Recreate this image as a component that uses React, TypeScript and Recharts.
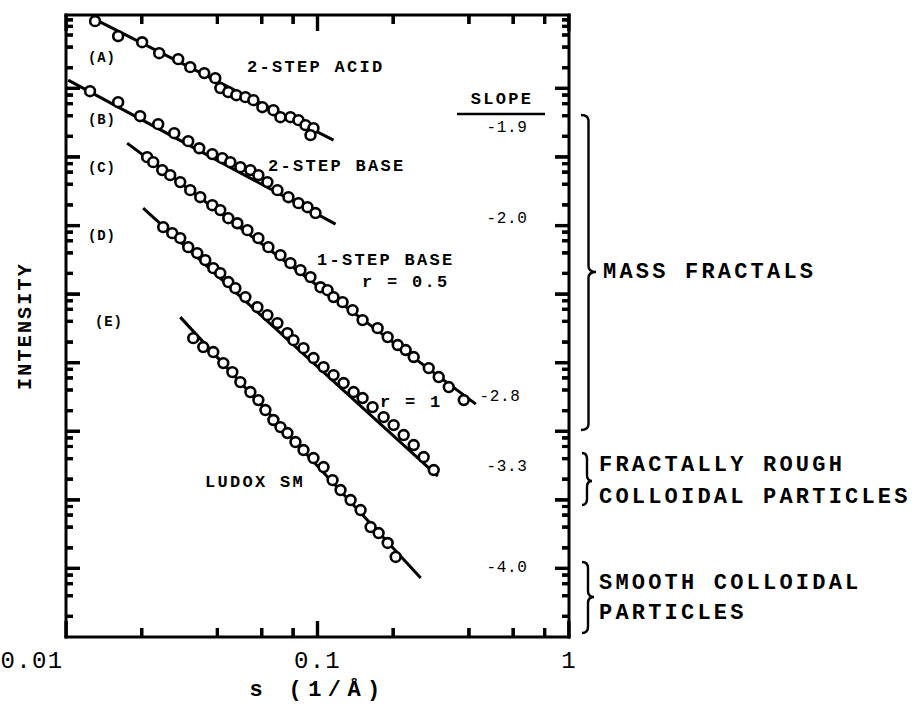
import React from "react";
import { ScatterChart, Scatter, XAxis, YAxis } from "recharts";

// s (1/Å) and intensity, one pair of arrays per sample
const sA = [0.01305, 0.01612, 0.02008, 0.02347, 0.02794, 0.03119, 0.03546, 0.03923, 0.04107, 0.04419, 0.04757, 0.05168, 0.05559, 0.06037, 0.06678, 0.07122, 0.07805, 0.084, 0.08959, 0.0964, 0.09378];
const iA = [9.55e8, 5.77e8, 4.71e8, 3.26e8, 2.67e8, 2.04e8, 1.67e8, 1.41e8, 1.01e8, 8.81e7, 7.96e7, 7.45e7, 6.73e7, 5.32e7, 4.81e7, 3.8e7, 3.8e7, 3.44e7, 2.91e7, 2.63e7, 2.08e7];

const sB = [0.01246, 0.01612, 0.01972, 0.02326, 0.02694, 0.03062, 0.03388, 0.03817, 0.04183, 0.04502, 0.04934, 0.05409, 0.0582, 0.06321, 0.06929, 0.07664, 0.084, 0.09124, 0.09818];
const iB = [9.1e7, 6.29e7, 3.93e7, 3.01e7, 2.22e7, 1.7e7, 1.34e7, 1.1e7, 9.61e6, 8.4e6, 7.1e6, 6.43e6, 5.43e6, 4.3e6, 3.28e6, 2.59e6, 2.12e6, 1.85e6, 1.52e6];

const sC = [0.02102, 0.02222, 0.02413, 0.02596, 0.02846, 0.03119, 0.03419, 0.03817, 0.04107, 0.04419, 0.04801, 0.05264, 0.0582, 0.06379, 0.07122, 0.07805, 0.08555, 0.09378, 0.1028, 0.1096, 0.1158, 0.1258, 0.1379, 0.1511, 0.1734, 0.1901, 0.2084, 0.2242, 0.2413, 0.2769, 0.3034, 0.3326, 0.3816];
const iC = [9.93e6, 8.4e6, 6.43e6, 5.43e6, 4.3e6, 3.28e6, 2.59e6, 1.98e6, 1.68e6, 1.28e6, 1.08e6, 8.57e5, 6.55e5, 4.84e5, 3.7e5, 2.83e5, 2.24e5, 1.77e5, 1.26e5, 1.14e5, 9.04e4, 7.64e4, 5.85e4, 4.18e4, 3.19e4, 2.36e4, 1.81e4, 1.53e4, 1.21e4, 8.34e3, 6.17e3, 4.41e3, 2.85e3];

const sD = [0.02435, 0.02645, 0.02846, 0.03062, 0.03326, 0.03579, 0.03852, 0.04107, 0.04419, 0.04713, 0.05168, 0.05768, 0.06321, 0.06929, 0.07594, 0.08024, 0.08796, 0.0964, 0.1057, 0.1158, 0.127, 0.1392, 0.1511, 0.1656, 0.1832, 0.2008, 0.2201, 0.2413, 0.2644, 0.2899];
const iD = [9.48e5, 7.75e5, 6.55e5, 4.84e5, 3.96e5, 3.13e5, 2.39e5, 2.02e5, 1.5e5, 1.22e5, 9.04e4, 6.46e4, 4.94e4, 3.78e4, 2.7e4, 2.13e4, 1.63e4, 1.17e4, 8.63e3, 6.59e3, 5.05e3, 3.73e3, 3.05e3, 2.25e3, 1.61e3, 1.23e3, 881, 630, 421, 272];

const sE = [0.03206, 0.03514, 0.03852, 0.04222, 0.04586, 0.04934, 0.05409, 0.0582, 0.06207, 0.06678, 0.07122, 0.07594, 0.08173, 0.08796, 0.0964, 0.1057, 0.1148, 0.1235, 0.1354, 0.1484, 0.1626, 0.175, 0.1901, 0.2046];
const iE = [2.28e4, 1.69e4, 1.43e4, 9.86e3, 7.29e3, 5.21e3, 3.73e3, 2.85e3, 2.04e3, 1.46e3, 1.15e3, 942, 696, 532, 407, 301, 194, 139, 99.3, 71.0, 40.1, 32.8, 23.5, 14.7];

// end points of the power-law fits
const fitSA = [0.01281, 0.1158];
const fitIA = [1.05e9, 1.76e7];
const fitSB = [0.0102, 0.118];
const fitIB = [1.32e8, 1.05e6];
const fitSC = [0.0175, 0.4262];
const fitIC = [1.59e7, 2.49e3];
const fitSD = [0.02027, 0.3007];
const fitID = [1.79e6, 222];
const fitSE = [0.02846, 0.2573];
const fitIE = [4.62e4, 7.24];

const xTicks = [0.01, 0.02, 0.04, 0.06, 0.08, 0.1, 0.2, 0.4, 0.6, 0.8, 1];
const xMajor = [0.01, 0.1, 1];
const xLabels = ["0.01", "0.1", "1"];
const yTicks = [
  2, 4, 6, 8, 10, 20, 40, 60, 80, 100, 200, 400, 600, 800, 1e3, 2e3, 4e3, 6e3, 8e3,
  1e4, 2e4, 4e4, 6e4, 8e4, 1e5, 2e5, 4e5, 6e5, 8e5, 1e6, 2e6, 4e6, 6e6, 8e6, 1e7,
  2e7, 4e7, 6e7, 8e7, 1e8, 2e8, 4e8, 6e8, 8e8, 1e9,
];
const yMajor = [10, 100, 1e3, 1e4, 1e5, 1e6, 1e7, 1e8];

const slopeLabels = ["-1.9", "-2.0", "-2.8", "-3.3", "-4.0"];

const X_DOMAIN = [0.01, 1];
const Y_DOMAIN = [1, 1.175e9];
// plot box in page pixels (chart margins below are set from it)
const BOX = { left: 66, right: 569, top: 15, bottom: 637 };
const PX_DEC_X = (BOX.right - BOX.left) / Math.log10(X_DOMAIN[1] / X_DOMAIN[0]);
const PX_DEC_Y = (BOX.bottom - BOX.top) / Math.log10(Y_DOMAIN[1] / Y_DOMAIN[0]);
const fx = (px: number) => 10 ** (px / PX_DEC_X);
const fy = (px: number) => 10 ** (px / PX_DEC_Y);

const FONT = "'Liberation Mono', 'DejaVu Sans Mono', monospace";

const zip = (s: number[], i: number[]) => s.map((v, k) => ({ s: v, i: i[k] }));

const series = [
  { pts: zip(sA, iA), fit: zip(fitSA, fitIA) },
  { pts: zip(sB, iB), fit: zip(fitSB, fitIB) },
  { pts: zip(sC, iC), fit: zip(fitSC, fitIC) },
  { pts: zip(sD, iD), fit: zip(fitSD, fitID) },
  { pts: zip(sE, iE), fit: zip(fitSE, fitIE) },
];

// inward tick marks, each a short two-point segment on the chart scales:
// long at decades, short at 2, 4, 6, 8
type P = { s: number; i: number };
const ticks: P[][] = [];
xTicks.forEach((v) => {
  const f = fy(xMajor.includes(v) ? 16 : 9);
  ticks.push([{ s: v, i: Y_DOMAIN[0] }, { s: v, i: Y_DOMAIN[0] * f }]);
  ticks.push([{ s: v, i: Y_DOMAIN[1] }, { s: v, i: Y_DOMAIN[1] / f }]);
});
yTicks.forEach((v) => {
  const f = fx(yMajor.includes(v) ? 14 : 7);
  ticks.push([{ s: X_DOMAIN[0], i: v }, { s: X_DOMAIN[0] * f, i: v }]);
  ticks.push([{ s: X_DOMAIN[1], i: v }, { s: X_DOMAIN[1] / f, i: v }]);
});

const Ring = (p: any) => (
  <circle cx={p.cx} cy={p.cy} r={4.9} fill="#fff" stroke="#000" strokeWidth={2.6} />
);
const NoDot = () => <g />;

// only the decade labels come from the axis tick renderer
function xLabel(p: any) {
  const v = p.payload.value;
  const k = xMajor.indexOf(v);
  if (k < 0) return <g />;
  // the 0.01 label sits left of its tick in the original
  const lx = v === 0.01 ? p.x - 34 : p.x;
  return (
    <text x={lx} y={p.y + 24} textAnchor="middle" dominantBaseline="central"
      fontFamily={FONT} fontSize={24} letterSpacing={1.3} fill="#000" stroke="none">
      {xLabels[k]}
    </text>
  );
}

function Brace({ x, y1, y2, ym, w }: { x: number; y1: number; y2: number; ym: number; w: number }) {
  const h = x + w / 2;
  const r = 6;
  const d = `M${x} ${y1} Q${h} ${y1} ${h} ${y1 + r} L${h} ${ym - r} Q${h} ${ym} ${x + w} ${ym} Q${h} ${ym} ${h} ${ym + r} L${h} ${y2 - r} Q${h} ${y2} ${x} ${y2}`;
  return <path d={d} fill="none" stroke="#000" strokeWidth={2.4} />;
}

// frame tick comb repeated on top of everything, so the marks on the
// bottom, top and right edges are never hidden under other layers
function FrameTicks() {
  const px = (s: number) => BOX.left + Math.log10(s / X_DOMAIN[0]) * PX_DEC_X;
  const py = (i: number) => BOX.bottom - Math.log10(i / Y_DOMAIN[0]) * PX_DEC_Y;
  let d = "";
  xTicks.forEach((v) => {
    const len = xMajor.includes(v) ? 16 : 9;
    const x = px(v);
    d += `M${x} ${BOX.bottom} v${-len} M${x} ${BOX.top} v${len} `;
  });
  yTicks.forEach((v) => {
    const len = yMajor.includes(v) ? 14 : 7;
    const y = py(v);
    d += `M${BOX.left} ${y} h${len} M${BOX.right} ${y} h${-len} `;
  });
  return <path d={d} stroke="#000" strokeWidth={3.2} fill="none" />;
}

const label = { fontFamily: FONT, fontWeight: 700, fill: "#000", dominantBaseline: "central" } as const;

function Notes() {
  const small = { ...label, fontSize: 14, letterSpacing: 0.8 };
  const mid = { ...label, fontSize: 17, letterSpacing: 2.3 };
  const big = { ...label, fontSize: 22, letterSpacing: 3.2 };
  const slopeY = [128, 219, 397, 467, 568];
  const slopeX = [507, 507, 500, 507, 507];
  return (
    <svg width={913} height={713} style={{ position: "absolute", left: 0, top: 0, pointerEvents: "none" }}>
      <FrameTicks />
      <text x={88} y={58} {...small}>(A)</text>
      <text x={88} y={120} {...small}>(B)</text>
      <text x={88} y={168} {...small}>(C)</text>
      <text x={88} y={236} {...small}>(D)</text>
      <text x={95} y={322} {...small}>(E)</text>

      <text x={247} y={67} {...mid}>2-STEP ACID</text>
      <text x={268} y={166} {...mid}>2-STEP BASE</text>
      <text x={317} y={260} {...mid}>1-STEP BASE</text>
      <text x={362} y={282} {...mid}>r = 0.5</text>
      <text x={380} y={402} {...mid}>r = 1</text>
      <text x={205} y={482} {...mid}>LUDOX SM</text>

      <text x={502} y={99} {...mid} textAnchor="middle">SLOPE</text>
      <line x1={457} y1={114} x2={545} y2={114} stroke="#000" strokeWidth={2.5} />
      {slopeLabels.map((t, k) => (
        <text key={t} x={slopeX[k]} y={slopeY[k]} textAnchor="middle" dominantBaseline="central"
          fontFamily={FONT} fontSize={16} letterSpacing={0.6} fill="#000">
          {t}
        </text>
      ))}

      <Brace x={581} y1={115} y2={430} ym={272} w={15} />
      <Brace x={582} y1={453} y2={505} ym={481} w={10} />
      <Brace x={582} y1={562} y2={633} ym={597} w={12} />
      <text x={603} y={272} {...big}>MASS FRACTALS</text>
      <text x={599} y={465} {...big}>FRACTALLY ROUGH</text>
      <text x={599} y={497} {...big}>COLLOIDAL PARTICLES</text>
      <text x={599} y={583} {...big}>SMOOTH COLLOIDAL</text>
      <text x={599} y={613} {...big}>PARTICLES</text>

      <text x={25} y={326} {...label} fontSize={20} letterSpacing={2.2} textAnchor="middle"
        transform="rotate(-90 25 326)">INTENSITY</text>
      <text x={318} y={690} {...label} fontSize={22} letterSpacing={6.4} textAnchor="middle">s (1/Å)</text>
    </svg>
  );
}

export default function App() {
  const axisLine = { stroke: "#000", strokeWidth: 3, strokeLinecap: "square" as const };
  // axes are 1px thick so that Recharts still draws them; margins make up the difference
  const xCommon = {
    dataKey: "s", type: "number" as const, scale: "log" as const, domain: X_DOMAIN,
    allowDataOverflow: true, ticks: xTicks, interval: 0 as const, height: 1,
    tickSize: 0, tickMargin: 0, tickLine: false, axisLine,
  };
  const yCommon = {
    dataKey: "i", type: "number" as const, scale: "log" as const, domain: Y_DOMAIN,
    allowDataOverflow: true, ticks: yTicks, interval: 0 as const, width: 1,
    tickSize: 0, tickMargin: 0, tickLine: false, axisLine,
  };
  return (
    <div style={{ position: "absolute", left: 0, top: 0, width: 913, height: 713, background: "#fff" }}>
      <ScatterChart width={913} height={713}
        margin={{ top: BOX.top - 1, right: 913 - BOX.right - 1, bottom: 713 - BOX.bottom - 1, left: BOX.left - 1 }}>
        <XAxis {...xCommon} xAxisId="b" orientation="bottom" tick={xLabel} />
        <XAxis {...xCommon} xAxisId="t" orientation="top" tick={false} />
        <YAxis {...yCommon} yAxisId="l" orientation="left" tick={false} />
        <YAxis {...yCommon} yAxisId="r" orientation="right" tick={false} />
        {ticks.map((t, k) => (
          <Scatter key={`tick${k}`} xAxisId="b" yAxisId="l" data={t} shape={NoDot}
            line={{ stroke: "#000", strokeWidth: 3.2 }} isAnimationActive={false} />
        ))}
        {series.map((d, k) => (
          <Scatter key={`fit${k}`} xAxisId="b" yAxisId="l" data={d.fit} shape={NoDot}
            line={{ stroke: "#000", strokeWidth: 3 }} isAnimationActive={false} />
        ))}
        {series.map((d, k) => (
          <Scatter key={`pts${k}`} xAxisId="b" yAxisId="l" data={d.pts} shape={Ring}
            isAnimationActive={false} />
        ))}
      </ScatterChart>
      <Notes />
    </div>
  );
}
